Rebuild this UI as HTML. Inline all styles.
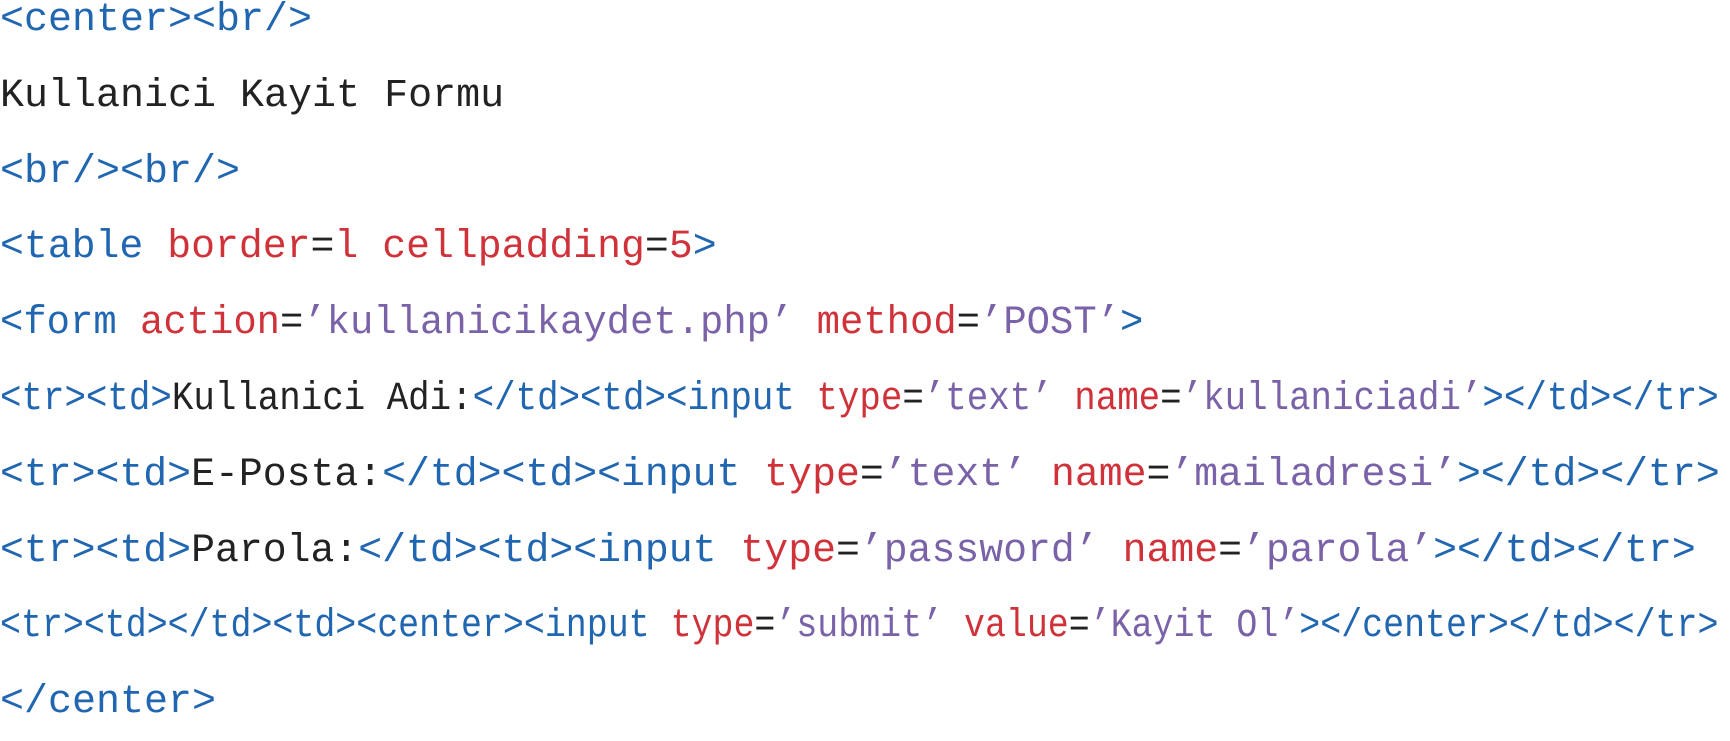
<!DOCTYPE html>
<html><head><meta charset="utf-8"><style>
html,body{margin:0;padding:0;background:#fff;width:1730px;height:718px;overflow:hidden}
.c{position:absolute;left:0;top:-17px;margin:0;font-family:"Liberation Mono",monospace;font-size:40px;color:#222}
.c div{height:75.8px;line-height:75.8px;white-space:pre;transform-origin:0 50%}
.t{color:#2166b0}.a{color:#d0323a}.v{color:#7a62a8}
</style></head><body><div class="c">
<div><span class="t">&lt;center&gt;&lt;br/&gt;</span></div>
<div>Kullanici Kayit Formu</div>
<div><span class="t">&lt;br/&gt;&lt;br/&gt;</span></div>
<div style="transform:scaleX(0.995)"><span class="t">&lt;table</span> <span class="a">border</span>=<span class="a">l</span> <span class="a">cellpadding</span>=<span class="a">5</span><span class="t">&gt;</span></div>
<div style="transform:scaleX(0.972)"><span class="t">&lt;form</span> <span class="a">action</span>=<span class="v">’kullanicikaydet.php’</span> <span class="a">method</span>=<span class="v">’POST’</span><span class="t">&gt;</span></div>
<div style="transform:scaleX(0.895)"><span class="t">&lt;tr&gt;&lt;td&gt;</span>Kullanici Adi:<span class="t">&lt;/td&gt;&lt;td&gt;&lt;input</span> <span class="a">type</span>=<span class="v">’text’</span> <span class="a">name</span>=<span class="v">’kullaniciadi’</span><span class="t">&gt;&lt;/td&gt;&lt;/tr&gt;</span></div>
<div style="transform:scaleX(0.995)"><span class="t">&lt;tr&gt;&lt;td&gt;</span>E-Posta:<span class="t">&lt;/td&gt;&lt;td&gt;&lt;input</span> <span class="a">type</span>=<span class="v">’text’</span> <span class="a">name</span>=<span class="v">’mailadresi’</span><span class="t">&gt;&lt;/td&gt;&lt;/tr&gt;</span></div>
<div style="transform:scaleX(0.995)"><span class="t">&lt;tr&gt;&lt;td&gt;</span>Parola:<span class="t">&lt;/td&gt;&lt;td&gt;&lt;input</span> <span class="a">type</span>=<span class="v">’password’</span> <span class="a">name</span>=<span class="v">’parola’</span><span class="t">&gt;&lt;/td&gt;&lt;/tr&gt;</span></div>
<div style="transform:scaleX(0.873)"><span class="t">&lt;tr&gt;&lt;td&gt;&lt;/td&gt;&lt;td&gt;&lt;center&gt;&lt;input</span> <span class="a">type</span>=<span class="v">’submit’</span> <span class="a">value</span>=<span class="v">’Kayit Ol’</span><span class="t">&gt;&lt;/center&gt;&lt;/td&gt;&lt;/tr&gt;</span></div>
<div><span class="t">&lt;/center&gt;</span></div>
</div></body></html>
